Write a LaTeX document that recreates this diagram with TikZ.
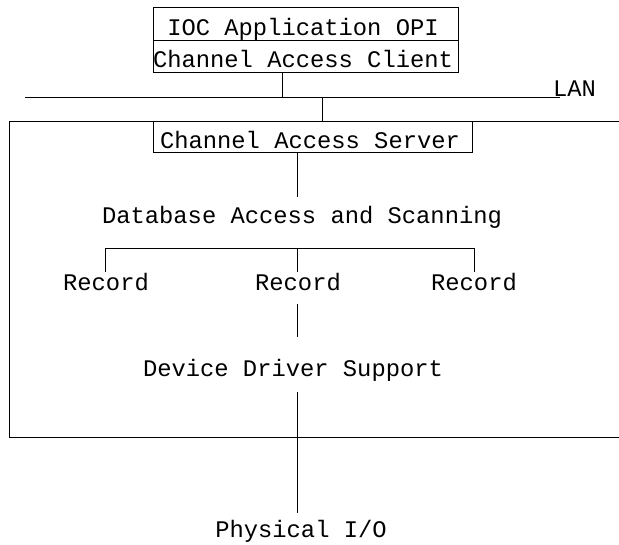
\documentclass[tikz,border=0pt]{standalone}
\usepackage{fontspec}
\setmainfont{Liberation Mono}
\begin{document}
\begin{tikzpicture}[x=1pt,y=-1pt,line width=0.9pt,
  lbl/.style={font=\fontsize{23.8}{26}\selectfont,inner sep=0pt,anchor=base},
  boxed/.style={draw,inner sep=0pt,minimum height=#1},
]
\useasboundingbox (0,0) rectangle (619,544);
% top box
\node[boxed=33pt,minimum width=305pt] (opi) at (305.5,23.5) {};
\node[boxed=32pt,minimum width=305pt] (client) at (305.5,56) {};
\node[lbl] (opit) at (303,35) {IOC Application OPI};
\node[lbl] (clientt) at (303,67) {Channel Access Client};
% LAN
\coordinate (lanL) at (25,97);
\coordinate (lanR) at (560,97);
\draw (lanL) -- (lanR);
\node[lbl] (lan) at (574.5,96) {LAN};
\coordinate (j1) at (282,97);
\coordinate (j2) at (322,97);
\draw (j1 |- client.south) -- (j1);
% frame
\coordinate (fTR) at (619,121);
\coordinate (fBL) at (9,437);
\coordinate (fBR) at (619,437);
\draw (fTR) -| (fBL) -- (fBR);
% server
\node[boxed=31pt,minimum width=319.5pt,fill=white] (server) at (312.75,136.5) {};
\node[lbl] (servert) at (310,148) {Channel Access Server};
\draw (j2) -- (j2 |- server.north);
% database
\node[lbl] (db) at (302,223) {Database Access and Scanning};
\coordinate (s1) at (297,152);
\coordinate (s2) at (297,197);
\draw (s1) -- (s2);
% bracket
\coordinate (bL) at (105,248);
\coordinate (bM) at (297,248);
\coordinate (bR) at (474,248);
\draw (105,272) -- (bL) -- (bR) -- (474,272);
\draw (bM) -- (297,272);
\node[lbl] (r1) at (106,290) {Record};
\node[lbl] (r2) at (298,290) {Record};
\node[lbl] (r3) at (474,290) {Record};
\coordinate (m1) at (297,304);
\coordinate (m2) at (297,337);
\draw (m1) -- (m2);
\node[lbl] (dev) at (293,376) {Device Driver Support};
\coordinate (d1) at (297,392);
\coordinate (d2) at (297,513);
\draw (d1) -- (d2);
\node[lbl] (phys) at (301,537) {Physical I/O};
\end{tikzpicture}
\end{document}
